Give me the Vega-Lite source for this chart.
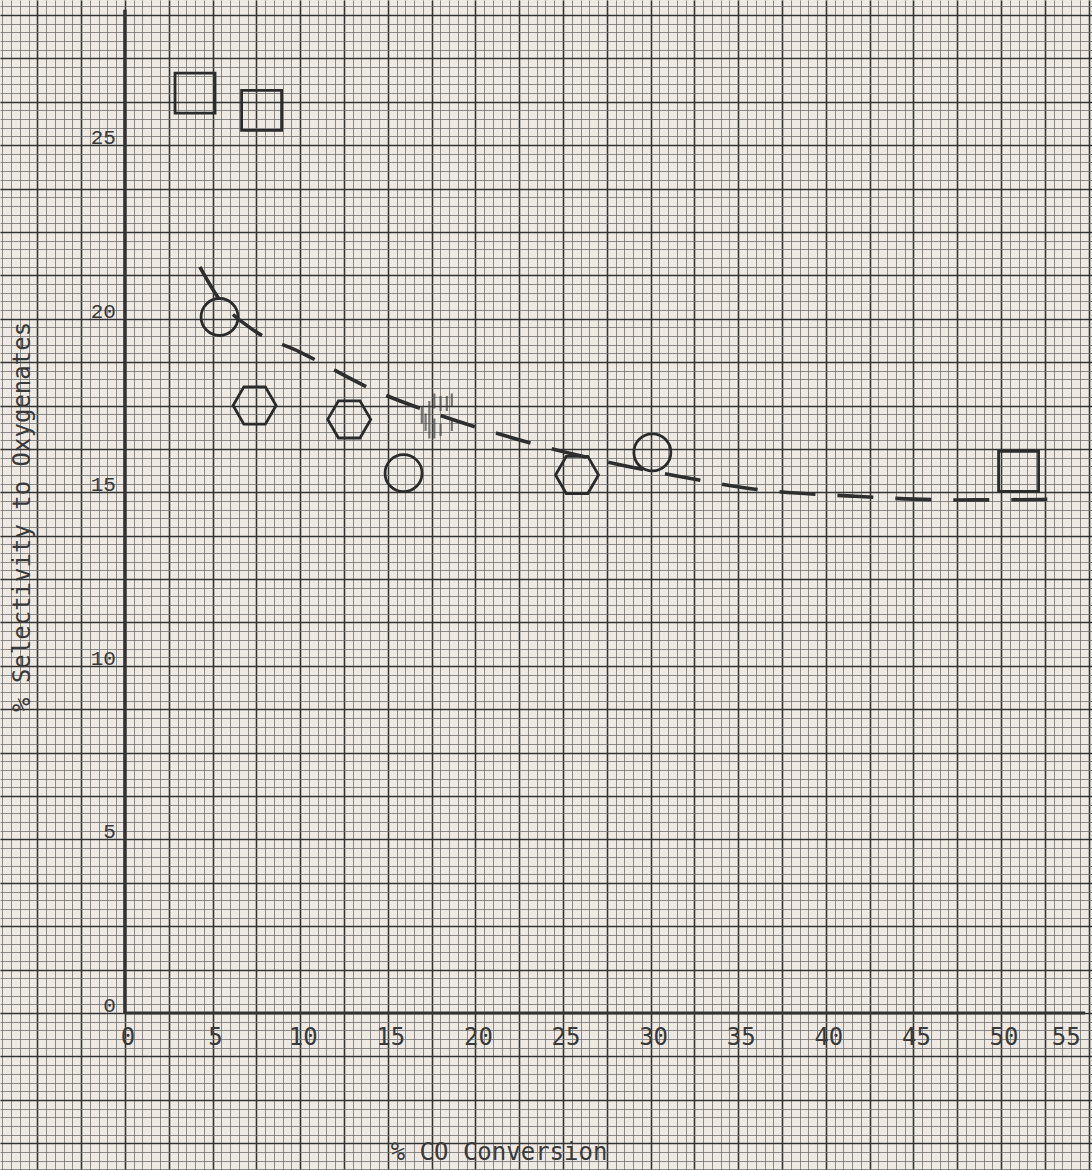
{
  "$schema": "https://vega.github.io/schema/vega-lite/v6.json",
  "width": 1092,
  "height": 1170,
  "autosize": {"type": "fit", "contains": "padding"},
  "padding": 0,
  "background": "#eeeae3",
  "config": {"view": {"stroke": null}},
  "datasets": {
    "points": [
      {"s": "square", "x": 4.0, "y": 26.5},
      {"s": "square", "x": 7.8, "y": 26.0},
      {"s": "square", "x": 51.0, "y": 15.6},
      {"s": "circle", "x": 5.4, "y": 20.05},
      {"s": "circle", "x": 15.9, "y": 15.55},
      {"s": "circle", "x": 30.1, "y": 16.15},
      {"s": "hexagon", "x": 7.4, "y": 17.5},
      {"s": "hexagon", "x": 12.8, "y": 17.1},
      {"s": "hexagon", "x": 25.8, "y": 15.5}
    ],
    "erased": [{"x": 17.8, "y": 17.2}],
    "curve": [
      {"x": 4.28, "y": 21.49},
      {"x": 5.42, "y": 20.54},
      {"x": 7.25, "y": 19.7},
      {"x": 9.99, "y": 19.04},
      {"x": 14.44, "y": 17.89},
      {"x": 17.98, "y": 17.22},
      {"x": 22.37, "y": 16.53},
      {"x": 27.0, "y": 15.93},
      {"x": 31.5, "y": 15.47},
      {"x": 35.96, "y": 15.09},
      {"x": 41.5, "y": 14.89},
      {"x": 47.37, "y": 14.78},
      {"x": 53.65, "y": 14.8}
    ],
    "xticks": [{"t": 0}, {"t": 5}, {"t": 10}, {"t": 15}, {"t": 20}, {"t": 25}, {"t": 30}, {"t": 35}, {"t": 40}, {"t": 45}, {"t": 50}, {"t": 55}],
    "yticks": [{"t": 0}, {"t": 5}, {"t": 10}, {"t": 15}, {"t": 20}, {"t": 25}]
  },
  "layer": [
    {
      "data": {"name": "points"},
      "transform": [{"filter": "datum.s == 'square'"}],
      "mark": {"type": "point", "shape": "square", "size": 1600, "filled": false, "stroke": "#2b2b2b", "strokeWidth": 2.8, "opacity": 1},
      "encoding": {
        "x": {"field": "x", "type": "quantitative", "scale": {"domain": [-7.13, 55.19], "nice": false, "zero": false},
          "axis": {"values": [-7,-6.5,-6,-5.5,-5,-4.5,-4,-3.5,-3,-2.5,-2,-1.5,-1,-0.5,0,0.5,1,1.5,2,2.5,3,3.5,4,4.5,5,5.5,6,6.5,7,7.5,8,8.5,9,9.5,10,10.5,11,11.5,12,12.5,13,13.5,14,14.5,15,15.5,16,16.5,17,17.5,18,18.5,19,19.5,20,20.5,21,21.5,22,22.5,23,23.5,24,24.5,25,25.5,26,26.5,27,27.5,28,28.5,29,29.5,30,30.5,31,31.5,32,32.5,33,33.5,34,34.5,35,35.5,36,36.5,37,37.5,38,38.5,39,39.5,40,40.5,41,41.5,42,42.5,43,43.5,44,44.5,45,45.5,46,46.5,47,47.5,48,48.5,49,49.5,50,50.5,51,51.5,52,52.5,53,53.5,54,54.5,55],
            "grid": true, "gridColor": "#707070", "gridWidth": 1, "gridOpacity": 0.8, "ticks": false, "labels": false, "domain": false, "title": null}},
        "y": {"field": "y", "type": "quantitative", "scale": {"domain": [-4.52, 29.18], "nice": false, "zero": false},
          "axis": {"values": [-4.5,-4.25,-4,-3.75,-3.5,-3.25,-3,-2.75,-2.5,-2.25,-2,-1.75,-1.5,-1.25,-1,-0.75,-0.5,-0.25,0,0.25,0.5,0.75,1,1.25,1.5,1.75,2,2.25,2.5,2.75,3,3.25,3.5,3.75,4,4.25,4.5,4.75,5,5.25,5.5,5.75,6,6.25,6.5,6.75,7,7.25,7.5,7.75,8,8.25,8.5,8.75,9,9.25,9.5,9.75,10,10.25,10.5,10.75,11,11.25,11.5,11.75,12,12.25,12.5,12.75,13,13.25,13.5,13.75,14,14.25,14.5,14.75,15,15.25,15.5,15.75,16,16.25,16.5,16.75,17,17.25,17.5,17.75,18,18.25,18.5,18.75,19,19.25,19.5,19.75,20,20.25,20.5,20.75,21,21.25,21.5,21.75,22,22.25,22.5,22.75,23,23.25,23.5,23.75,24,24.25,24.5,24.75,25,25.25,25.5,25.75,26,26.25,26.5,26.75,27,27.25,27.5,27.75,28,28.25,28.5,28.75,29],
            "grid": true, "gridColor": "#707070", "gridWidth": 1, "gridOpacity": 0.8, "ticks": false, "labels": false, "domain": false, "title": null}}
      }
    },
    {
      "data": {"name": "points"},
      "transform": [{"filter": "datum.s == 'circle'"}],
      "mark": {"type": "point", "shape": "circle", "size": 1369, "filled": false, "stroke": "#2b2b2b", "strokeWidth": 2.8, "opacity": 1},
      "encoding": {
        "x": {"field": "x", "type": "quantitative", "scale": {"domain": [-7.13, 55.19], "nice": false, "zero": false},
          "axis": {"values": [-5,-2.5,0,2.5,5,7.5,10,12.5,15,17.5,20,22.5,25,27.5,30,32.5,35,37.5,40,42.5,45,47.5,50,52.5,55],
            "grid": true, "gridColor": "#2a2a2a", "gridWidth": 1.6, "gridOpacity": 0.9, "ticks": false, "labels": false, "domain": false, "title": null}},
        "y": {"field": "y", "type": "quantitative", "scale": {"domain": [-4.52, 29.18], "nice": false, "zero": false},
          "axis": {"values": [-3.75,-2.5,-1.25,0,1.25,2.5,3.75,5,6.25,7.5,8.75,10,11.25,12.5,13.75,15,16.25,17.5,18.75,20,21.25,22.5,23.75,25,26.25,27.5,28.75],
            "grid": true, "gridColor": "#2a2a2a", "gridWidth": 1.6, "gridOpacity": 0.9, "ticks": false, "labels": false, "domain": false, "title": null}}
      }
    },
    {
      "data": {"name": "points"},
      "transform": [{"filter": "datum.s == 'hexagon'"}],
      "mark": {"type": "point", "shape": "M-1,0L-0.5,-0.866L0.5,-0.866L1,0L0.5,0.866L-0.5,0.866Z", "size": 1849, "filled": false, "stroke": "#2b2b2b", "strokeWidth": 2.8, "opacity": 1},
      "encoding": {
        "x": {"field": "x", "type": "quantitative", "scale": {"domain": [-7.13, 55.19], "nice": false, "zero": false}, "axis": null},
        "y": {"field": "y", "type": "quantitative", "scale": {"domain": [-4.52, 29.18], "nice": false, "zero": false}, "axis": null}
      }
    },
    {
      "data": {"name": "erased"},
      "mark": {"type": "point", "shape": "M-0.6,-0.4V0.3M-0.45,-0.1V0.6M-0.3,-0.6V0.9M-0.1,-0.9V-0.3M-0.1,0.1V0.9M0.15,-0.8V-0.2M0.15,0.3V0.8M0.4,-0.8V-0.2M0.6,-0.9V-0.4M0.6,0.2V0.6", "size": 2500, "filled": false, "stroke": "#444444", "strokeWidth": 2.2, "opacity": 0.7},
      "encoding": {
        "x": {"field": "x", "type": "quantitative", "scale": {"domain": [-7.13, 55.19], "nice": false, "zero": false}, "axis": null},
        "y": {"field": "y", "type": "quantitative", "scale": {"domain": [-4.52, 29.18], "nice": false, "zero": false}, "axis": null}
      }
    },
    {
      "data": {"name": "curve"},
      "mark": {"type": "line", "interpolate": "monotone", "strokeDash": [36, 22], "strokeWidth": 3.6, "color": "#2e2e2e", "strokeCap": "butt"},
      "encoding": {
        "x": {"field": "x", "type": "quantitative", "scale": {"domain": [-7.13, 55.19], "nice": false, "zero": false}, "axis": null},
        "y": {"field": "y", "type": "quantitative", "scale": {"domain": [-4.52, 29.18], "nice": false, "zero": false}, "axis": null}
      }
    },
    {
      "data": {"values": [{}]},
      "mark": {"type": "rule", "strokeWidth": 3.5, "color": "#333333"},
      "encoding": {
        "x": {"datum": 0, "type": "quantitative", "scale": {"domain": [-7.13, 55.19], "nice": false, "zero": false}, "axis": null},
        "y": {"datum": 0, "type": "quantitative", "scale": {"domain": [-4.52, 29.18], "nice": false, "zero": false}, "axis": null},
        "y2": {"datum": 28.9}
      }
    },
    {
      "data": {"values": [{}]},
      "mark": {"type": "rule", "strokeWidth": 3, "color": "#333333"},
      "encoding": {
        "x": {"datum": 0, "type": "quantitative", "scale": {"domain": [-7.13, 55.19], "nice": false, "zero": false}, "axis": null},
        "x2": {"datum": 54.8},
        "y": {"datum": 0, "type": "quantitative", "scale": {"domain": [-4.52, 29.18], "nice": false, "zero": false}, "axis": null}
      }
    },
    {
      "data": {"name": "yticks"},
      "mark": {"type": "text", "font": "Liberation Mono", "fontSize": 21, "color": "#3a3a3a", "align": "right", "baseline": "alphabetic", "dx": -9, "dy": -1},
      "encoding": {
        "x": {"datum": 0, "type": "quantitative", "scale": {"domain": [-7.13, 55.19], "nice": false, "zero": false}, "axis": null},
        "y": {"field": "t", "type": "quantitative", "scale": {"domain": [-4.52, 29.18], "nice": false, "zero": false}, "axis": null},
        "text": {"field": "t", "type": "quantitative"}
      }
    },
    {
      "data": {"name": "xticks"},
      "transform": [{"filter": "datum.t < 55"}],
      "mark": {"type": "text", "font": "DejaVu Sans Mono", "fontSize": 24, "color": "#3a3a3a", "align": "center", "baseline": "middle", "dx": 3, "dy": 25},
      "encoding": {
        "x": {"field": "t", "type": "quantitative", "scale": {"domain": [-7.13, 55.19], "nice": false, "zero": false}, "axis": null},
        "y": {"datum": 0, "type": "quantitative", "scale": {"domain": [-4.52, 29.18], "nice": false, "zero": false}, "axis": null},
        "text": {"field": "t", "type": "quantitative"}
      }
    },
    {
      "data": {"name": "xticks"},
      "transform": [{"filter": "datum.t == 55"}],
      "mark": {"type": "text", "font": "DejaVu Sans Mono", "fontSize": 24, "color": "#3a3a3a", "align": "right", "baseline": "middle", "dx": -8, "dy": 25},
      "encoding": {
        "x": {"field": "t", "type": "quantitative", "scale": {"domain": [-7.13, 55.19], "nice": false, "zero": false}, "axis": null},
        "y": {"datum": 0, "type": "quantitative", "scale": {"domain": [-4.52, 29.18], "nice": false, "zero": false}, "axis": null},
        "text": {"field": "t", "type": "quantitative"}
      }
    },
    {
      "data": {"values": [{}]},
      "mark": {"type": "text", "font": "DejaVu Sans Mono", "fontSize": 24, "color": "#3a3a3a", "align": "center", "baseline": "middle", "text": "% CO Conversion"},
      "encoding": {
        "x": {"datum": 21.35, "type": "quantitative", "scale": {"domain": [-7.13, 55.19], "nice": false, "zero": false}, "axis": null},
        "y": {"datum": -4.03, "type": "quantitative", "scale": {"domain": [-4.52, 29.18], "nice": false, "zero": false}, "axis": null}
      }
    },
    {
      "data": {"values": [{}]},
      "mark": {"type": "text", "font": "DejaVu Sans Mono", "fontSize": 24, "color": "#3a3a3a", "align": "center", "baseline": "middle", "angle": 270, "text": "% Selectivity to Oxygenates"},
      "encoding": {
        "x": {"datum": -5.82, "type": "quantitative", "scale": {"domain": [-7.13, 55.19], "nice": false, "zero": false}, "axis": null},
        "y": {"datum": 14.29, "type": "quantitative", "scale": {"domain": [-4.52, 29.18], "nice": false, "zero": false}, "axis": null}
      }
    }
  ],
  "resolve": {"axis": {"x": "independent", "y": "independent"}}
}
